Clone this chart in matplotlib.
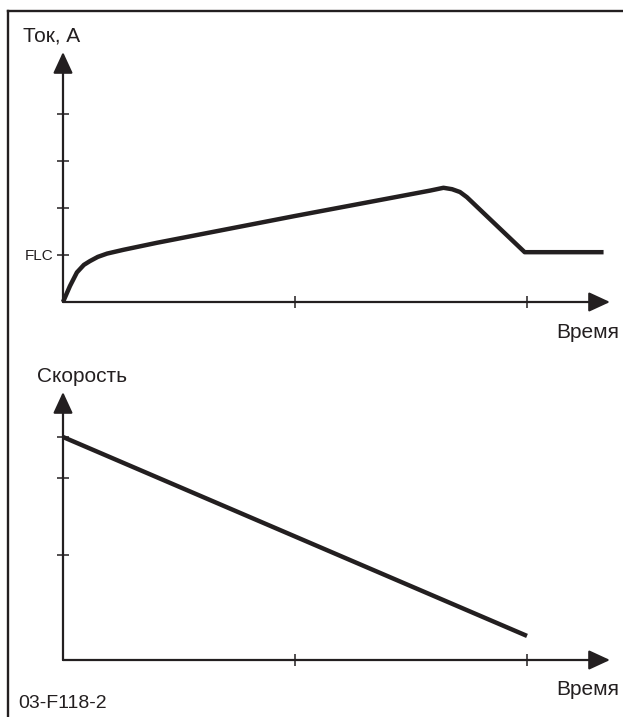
import numpy as np
import matplotlib
matplotlib.use("Agg")
import matplotlib.pyplot as plt
from matplotlib.lines import Line2D

plt.rcParams['font.family'] = ['Liberation Sans', 'DejaVu Sans']

# current vs time (x in time ticks, y in FLC units)
cur_t = [0.0, 0.03, 0.06, 0.09, 0.116, 0.15, 0.19, 0.26, 0.405, 1.0, 1.582, 1.64,
         1.677, 1.711, 1.741, 1.99, 2.33]
cur_i = [0.0, 0.34, 0.63, 0.79, 0.87, 0.96, 1.03, 1.11, 1.26, 1.83, 2.37, 2.43,
         2.40, 2.34, 2.23, 1.06, 1.06]
cur_yticks = [1, 2, 3, 4]
cur_yticklabels = ["FLC", "", "", ""]

# speed vs time
spd_t = [0.0, 2.0]
spd_v = [1.0, 0.108]
spd_yticks = [0.47, 0.816, 1.0]

time_ticks = [1, 2]
INK = "#231f20"

W, H = 623, 717
fig = plt.figure(figsize=(W / 100, H / 100), dpi=100)

# frame (top and left only)
fig.add_artist(Line2D([8 / W, 1], [1 - 11 / H, 1 - 11 / H], color=INK, lw=1.7,
                      transform=fig.transFigure))
fig.add_artist(Line2D([8 / W, 8 / W], [0, 1 - 11 / H], color=INK, lw=1.7,
                      transform=fig.transFigure))


def px_axes(x0, y0, x1, y1):
    # pixel box -> figure fraction
    return fig.add_axes([x0 / W, 1 - y0 / H, (x1 - x0) / W, (y0 - y1) / H])


def style(ax, xmax, ymax):
    ax.set_xlim(0, xmax)
    ax.set_ylim(0, ymax)
    for s in ["top", "right", "left", "bottom"]:
        ax.spines[s].set_visible(False)
    ax.set_facecolor("none")
    arrow = dict(arrowstyle="-|>,head_length=0.65,head_width=0.3", lw=1.6,
                 color=INK, mutation_scale=20, shrinkA=0, shrinkB=0)
    ax.annotate("", xy=(1, 0), xytext=(0, 0), xycoords="axes fraction",
                arrowprops=arrow, annotation_clip=False)
    ax.annotate("", xy=(0, 1), xytext=(0, 0), xycoords="axes fraction",
                arrowprops=arrow, annotation_clip=False)
    ax.set_xticks(time_ticks)
    ax.set_xticklabels([])
    ax.tick_params(direction="inout", length=8, width=1.1, color=INK,
                   labelsize=11, labelcolor=INK, pad=3)


def label(x, y, s, size=15, ha="left"):
    fig.text(x / W, 1 - y / H, s, fontsize=size, color=INK, va="baseline", ha=ha)


# top: current
ax1 = px_axes(63, 302, 610, 52)
style(ax1, (610 - 63) / 232, (302 - 52) / 47)
ax1.plot(cur_t, cur_i, color=INK, lw=3.2, solid_capstyle="butt",
         solid_joinstyle="round", clip_on=False)
ax1.set_yticks(cur_yticks)
ax1.set_yticklabels(cur_yticklabels)
label(23, 41, "Ток, А")
label(619, 338, "Время", ha="right")

# bottom: speed
ax2 = px_axes(63, 660, 610, 392)
style(ax2, (610 - 63) / 232, (660 - 392) / 223)
ax2.plot(spd_t, spd_v, color=INK, lw=3.2, solid_capstyle="butt", clip_on=False)
ax2.set_yticks(spd_yticks)
ax2.set_yticklabels([])
label(37, 382, "Скорость")
label(619, 695, "Время", ha="right")

label(18, 708, "03-F118-2", size=14)

fig.savefig("out.png", dpi=100)
